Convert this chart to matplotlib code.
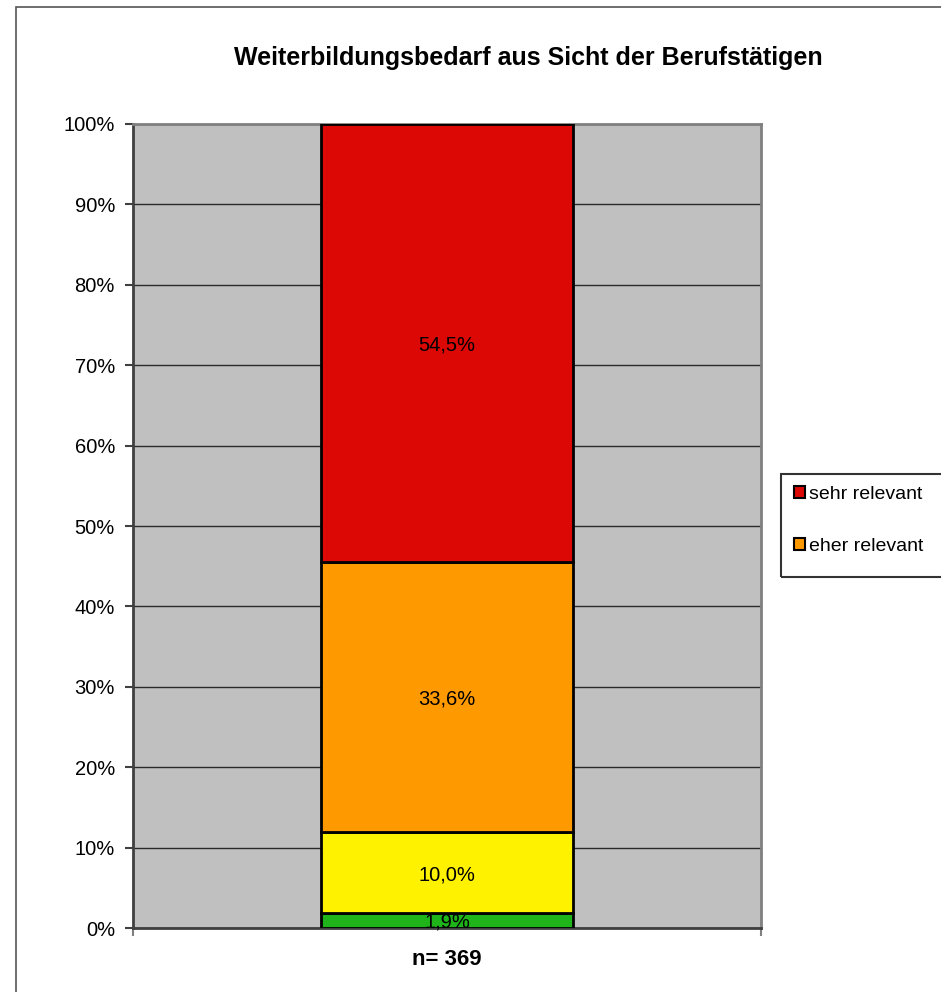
import matplotlib
matplotlib.use('Agg')
import matplotlib.pyplot as plt
from matplotlib.patches import Patch, Rectangle
from matplotlib.ticker import PercentFormatter

plt.rcParams['font.family'] = ['Liberation Sans', 'DejaVu Sans']

# Daten
category = 'n= 369'
segment_names = ['gar nicht relevant', 'eher nicht relevant', 'eher relevant', 'sehr relevant']
segment_values = [1.9, 10.0, 33.6, 54.5]
segment_labels = ['1,9%', '10,0%', '33,6%', '54,5%']
segment_colors = ['#1fb41a', '#fff200', '#ff9900', '#dc0805']
legend_names = ['sehr relevant', 'eher relevant']
legend_colors = ['#dc0805', '#ff9900']

fig = plt.figure(figsize=(9.41, 9.92), dpi=100)
ax = fig.add_axes([133 / 941, 64 / 992, 628 / 941, 804 / 992])
ax.set_facecolor('#c0c0c0')

# gestapelte Säule
bottom = 0
for val, lab, col in zip(segment_values, segment_labels, segment_colors):
    ax.bar(0, val, width=0.4, bottom=bottom, color=col, edgecolor='black',
           linewidth=2, zorder=3)
    ax.text(0, bottom + val / 2, lab, ha='center', va='center_baseline', fontsize=14.5, zorder=4)
    bottom += val

ax.set_xlim(-0.5, 0.5)
ax.set_ylim(0, 100)
ax.set_yticks(range(0, 101, 10))
ax.yaxis.set_major_formatter(PercentFormatter(decimals=0))
ax.tick_params(axis='y', labelsize=14.5, length=6, width=1.5, color='#404040', pad=7)
ax.grid(axis='y', color='#2a2a2a', linewidth=1, zorder=1)
ax.set_axisbelow(True)

ax.set_xticks([0])
ax.set_xticklabels([category], fontsize=16, fontweight='bold')
ax.tick_params(axis='x', length=0, pad=15)
ax.set_xticks([-0.5, 0.5], minor=True)
ax.tick_params(axis='x', which='minor', length=6, width=1.5, color='#808080')

for side in ['left', 'bottom']:
    ax.spines[side].set_color('#404040')
    ax.spines[side].set_linewidth(2)
for side in ['top', 'right']:
    ax.spines[side].set_color('#808080')
    ax.spines[side].set_linewidth(2)

fig.text(0.561, 1 - 58 / 992, 'Weiterbildungsbedarf aus Sicht der Berufstätigen',
         ha='center', va='center', fontsize=18, fontweight='bold')

# Legende (Rahmen separat gezeichnet)
handles = [Patch(facecolor=c, edgecolor='black', linewidth=1.5) for c in legend_colors]
leg = fig.legend(handles, legend_names, loc='upper left', bbox_to_anchor=(794 / 941, 1 - 486 / 992),
                 fontsize=14, frameon=False, handlelength=0.55, handleheight=0.55,
                 handletextpad=0.2, labelspacing=1.8, borderpad=0, borderaxespad=0)
fig.patches.append(Rectangle((781 / 941, 1 - 577 / 992), 0.3, 103 / 992, transform=fig.transFigure,
                             fill=False, edgecolor='#333333', linewidth=1.5))

# Rahmen um das Diagramm
fig.patches.append(Rectangle((16 / 941, -0.1), 1.2, 1 - 7 / 992 + 0.1, transform=fig.transFigure,
                             fill=False, edgecolor='#555555', linewidth=1.2))

fig.savefig('out.png', dpi=100)
